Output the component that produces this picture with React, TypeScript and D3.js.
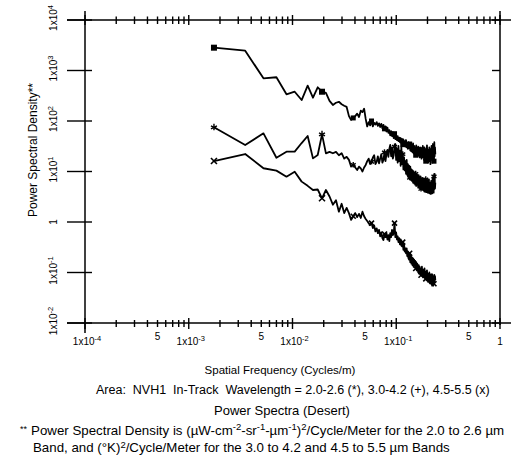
import React from 'react';
import * as d3 from 'd3';

// Frequency bin width (cycles/m); sample k is at k * binWidth
const binWidth = 0.00175;

// 2.0-2.6 µm band (*)
const psdBand1 = [2830, 2470, 700, 735, 338, 380, 260, 500, 289, 465,
  380, 360, 250, 208, 230, 240, 215, 200, 190, 125,
  105, 115, 125, 140, 120, 160, 150, 175, 110, 78,
  95, 82, 100, 78, 92, 85, 95, 80, 90, 76,
  88, 72, 84, 70, 78, 62, 74, 58, 66, 52,
  63, 50, 60, 46, 56, 44, 52, 42, 50, 40,
  47, 38, 46, 36, 44, 34, 43, 33, 40, 31,
  42, 30, 37, 28, 38, 29, 35, 26, 34, 25,
  33, 24, 36, 23, 32, 22, 30, 21, 33, 22,
  29, 20, 31, 21, 28, 19, 30, 20, 27, 18,
  29, 19, 32, 20, 27, 17, 30, 19, 26, 16,
  28, 18, 33, 20, 26, 15, 27, 17, 30, 16,
  25, 14, 28, 18, 32, 17, 26, 15, 35, 19,
  27, 16, 38, 20, 30, 22];

// 3.0-4.2 µm band (+)
const psdBand2 = [75, 33.5, 57, 18.7, 24.7, 24.7, 36.6, 50.5, 18.2, 21.2,
  54.5, 22.9, 24.5, 23, 24.5, 21, 23, 18, 19.5, 17,
  12.5, 13.5, 12, 10.7, 12.5, 11.5, 10, 12, 13.5, 16,
  18, 14, 15.5, 19, 21, 14, 15.5, 20, 14.5, 18,
  22, 15, 17, 24, 16, 22, 26.7, 19.5, 28, 33.5,
  20, 30, 18, 21, 31, 35, 17, 28, 15, 32,
  16, 26, 13, 30, 14, 22, 11, 19, 10.5, 16,
  9, 17, 8.5, 14, 8, 13, 7.5, 12.5, 6.8, 11,
  6.5, 10.5, 6, 10, 5.8, 9.5, 5.5, 9, 5.2, 8.8,
  5.5, 8, 4.8, 8.5, 5, 7.5, 4.6, 8, 4.5, 7,
  4.4, 7.5, 4.8, 6.8, 4.2, 7.2, 4, 6.5, 4.5, 7,
  3.9, 6.2, 4.3, 6.8, 3.8, 6, 4, 7, 3.7, 6,
  4.1, 5.8, 3.6, 6.5, 4, 5.5, 3.7, 7.5, 4.2, 6,
  3.8, 8, 4.5, 9, 4.6, 6];

// 4.5-5.5 µm band (x)
const psdBand3 = [16.1, 22.2, 11.6, 10.4, 7.9, 9.9, 6.3, 5.2, 4.3, 4.4,
  2.95, 4.3, 3.2, 2.2, 2.7, 1.6, 2.3, 1.5, 1.9, 1.5,
  1.1, 1.3, 1.5, 1.25, 1.45, 1.2, 1.6, 1.3, 1.15, 1.05,
  0.95, 0.87, 0.95, 0.76, 0.85, 0.65, 0.75, 0.6, 0.7, 0.52,
  0.62, 0.48, 0.44, 0.58, 0.5, 0.6, 0.45, 0.55, 0.42, 0.6,
  0.5, 0.7, 0.55, 0.6, 0.95, 0.5, 0.62, 0.45, 0.52, 0.4,
  0.48, 0.36, 0.45, 0.34, 0.33, 0.4, 0.28, 0.36, 0.26, 0.3,
  0.24, 0.3, 0.21, 0.26, 0.19, 0.18, 0.24, 0.16, 0.22, 0.15,
  0.2, 0.14, 0.19, 0.13, 0.18, 0.14, 0.17, 0.12, 0.16, 0.11,
  0.15, 0.13, 0.1, 0.14, 0.095, 0.13, 0.1, 0.12, 0.088, 0.1,
  0.13, 0.085, 0.115, 0.08, 0.11, 0.09, 0.12, 0.078, 0.105, 0.075,
  0.1, 0.07, 0.11, 0.08, 0.095, 0.065, 0.09, 0.07, 0.1, 0.062,
  0.085, 0.06, 0.092, 0.07, 0.08, 0.058, 0.09, 0.062, 0.085, 0.055,
  0.08, 0.06, 0.09, 0.065, 0.085, 0.07];

const seriesMarkers = ['square', 'star', 'cross'];

const xMajorTicks = [1e-4, 1e-3, 1e-2, 1e-1, 1];
const xMajorExps = ['-4', '-3', '-2', '-1', ''];
const xFiveTicks = [5e-4, 5e-3, 5e-2, 5e-1];
const yMajorTicks = [1e-2, 1e-1, 1, 1e1, 1e2, 1e3, 1e4];
const yMajorExps = ['-2', '-1', '', '1', '2', '3', '4'];

const FONT = "'Liberation Sans', Arial, Helvetica, sans-serif";

function Marker({ kind, cx, cy, s }: { kind: string; cx: number; cy: number; s: number }) {
  if (kind === 'square') {
    return <rect x={cx - s} y={cy - s} width={2 * s} height={2 * s} fill="#000" />;
  }
  if (kind === 'star') {
    return (
      <g stroke="#000" strokeWidth={1.4}>
        <line x1={cx} y1={cy - s - 0.5} x2={cx} y2={cy + s} />
        <line x1={cx - s} y1={cy - 1.5} x2={cx + s} y2={cy + 1.5} />
        <line x1={cx - s} y1={cy + 1.5} x2={cx + s} y2={cy - 1.5} />
      </g>
    );
  }
  return (
    <g stroke="#000" strokeWidth={1.6}>
      <line x1={cx - s} y1={cy - s} x2={cx + s} y2={cy + s} />
      <line x1={cx - s} y1={cy + s} x2={cx + s} y2={cy - s} />
    </g>
  );
}

export default function App() {
  const W = 512;
  const H = 463;
  const x = d3.scaleLog().domain([1e-4, 1]).range([85, 500]);
  const y = d3.scaleLog().domain([1e-2, 1e4]).range([323, 20]);
  const left = 85, right = 500, top = 20, bottom = 323;

  const data = [psdBand1, psdBand2, psdBand3].map((vals) =>
    vals.map((v, i) => ({ f: (i + 1) * binWidth, v, k: i + 1 }))
  );
  const line = d3.line<{ f: number; v: number }>().x((d) => x(d.f)).y((d) => y(d.v));

  const xTicks = x.ticks();
  const isDecade = (t: number) => Math.abs(Math.log10(t) - Math.round(Math.log10(t))) < 1e-6;

  return (
    <svg width={W} height={H} style={{ position: 'absolute', left: 0, top: 0, background: '#fff' }}
      fontFamily={FONT}>
      <rect x={0} y={0} width={W} height={H} fill="#fff" />
      {/* frame */}
      <g stroke="#000" strokeWidth={1.5}>
        <line x1={67} x2={511} y1={top} y2={top} />
        <line x1={67} x2={511} y1={bottom} y2={bottom} />
        <line x1={left} x2={left} y1={11} y2={333} />
        <line x1={right} x2={right} y1={11} y2={325} />
      </g>
      {/* x ticks bottom and top */}
      <g stroke="#000" strokeWidth={1.4}>
        {xTicks.map((t, i) => {
          const maj = isDecade(t);
          const px = x(t);
          return (
            <g key={i}>
              <line x1={px} x2={px} y1={bottom - (maj ? 5 : 3)} y2={bottom + (maj ? 6 : 4)} />
              <line x1={px} x2={px} y1={top - (maj ? 5 : 3.5)} y2={top + (maj ? 5 : 4)} />
            </g>
          );
        })}
      </g>
      {/* y ticks */}
      <g stroke="#000" strokeWidth={1.4}>
        {yMajorTicks.map((t, i) => (
          <g key={i}>
            <line x1={67} x2={92} y1={y(t)} y2={y(t)} />
            <line x1={492} x2={500} y1={y(t)} y2={y(t)} />
          </g>
        ))}
      </g>
      {/* x tick labels */}
      <g fontSize={10} fill="#000" textAnchor="middle">
        {xMajorTicks.map((t, i) => (
          <text key={i} x={x(t) + (xMajorExps[i] ? 2 : 0)} y={345}>
            1{xMajorExps[i] ? 'x10' : ''}
            {xMajorExps[i] ? <tspan fontSize={7.5} dy={-4}>{xMajorExps[i]}</tspan> : null}
          </text>
        ))}
        {xFiveTicks.map((t, i) => (
          <text key={'f' + i} x={x(t)} y={340}>5</text>
        ))}
      </g>
      {/* y tick labels */}
      <g fontSize={10} fill="#000" textAnchor="middle">
        {yMajorTicks.map((t, i) => (
          <text key={i} transform={`translate(57,${y(t) + (yMajorExps[i] ? -2 : 0)}) rotate(-90)`}>
            1{yMajorExps[i] ? 'x10' : ''}
            {yMajorExps[i] ? <tspan fontSize={7.5} dy={-4}>{yMajorExps[i]}</tspan> : null}
          </text>
        ))}
      </g>
      {/* y title */}
      <text transform={`translate(37,150) rotate(-90)`} textAnchor="middle" fontSize={12}>
        Power Spectral Density**
      </text>
      {/* series */}
      <g fill="none" stroke="#000" strokeWidth={1.8} strokeLinejoin="round">
        {data.map((d, i) => (
          <path key={i} d={line(d) || ''} />
        ))}
      </g>
      {data.map((d, si) =>
        d.filter((p) => p.k === 1 || p.k % 11 === 0).map((p, j) => (
          <Marker key={si + '-' + j} kind={seriesMarkers[si]} cx={x(p.f)} cy={y(p.v)} s={p.k <= 11 ? 3 : 2.5} />
        ))
      )}
      {/* captions */}
      <g fill="#000">
        <text x={280} y={374} textAnchor="middle" fontSize={11.5}>Spatial Frequency (Cycles/m)</text>
        <text x={96} y={394} fontSize={12.5} xmlSpace="preserve">Area:  NVH1  In-Track  Wavelength = 2.0-2.6 (*), 3.0-4.2 (+), 4.5-5.5 (x)</text>
        <text x={282} y={415} textAnchor="middle" fontSize={13}>Power Spectra (Desert)</text>
        <text x={20} y={435} fontSize={13.3}>
          <tspan fontSize={9} dy={-3}>**</tspan>
          <tspan dx={4} dy={3}>Power Spectral Density is (µW-cm</tspan>
          <tspan fontSize={9.5} dy={-5}>-2</tspan>
          <tspan dy={5}>-sr</tspan>
          <tspan fontSize={9.5} dy={-5}>-1</tspan>
          <tspan dy={5}>-µm</tspan>
          <tspan fontSize={9.5} dy={-5}>-1</tspan>
          <tspan dy={5}>)</tspan>
          <tspan fontSize={9.5} dy={-5}>2</tspan>
          <tspan dy={5}>/Cycle/Meter for the 2.0 to 2.6 µm</tspan>
        </text>
        <text x={33} y={452} fontSize={13.3}>
          Band, and (°K)
          <tspan fontSize={9.5} dy={-4}>2</tspan>
          <tspan dy={4}>/Cycle/Meter for the 3.0 to 4.2 and 4.5 to 5.5 µm Bands</tspan>
        </text>
      </g>
    </svg>
  );
}
